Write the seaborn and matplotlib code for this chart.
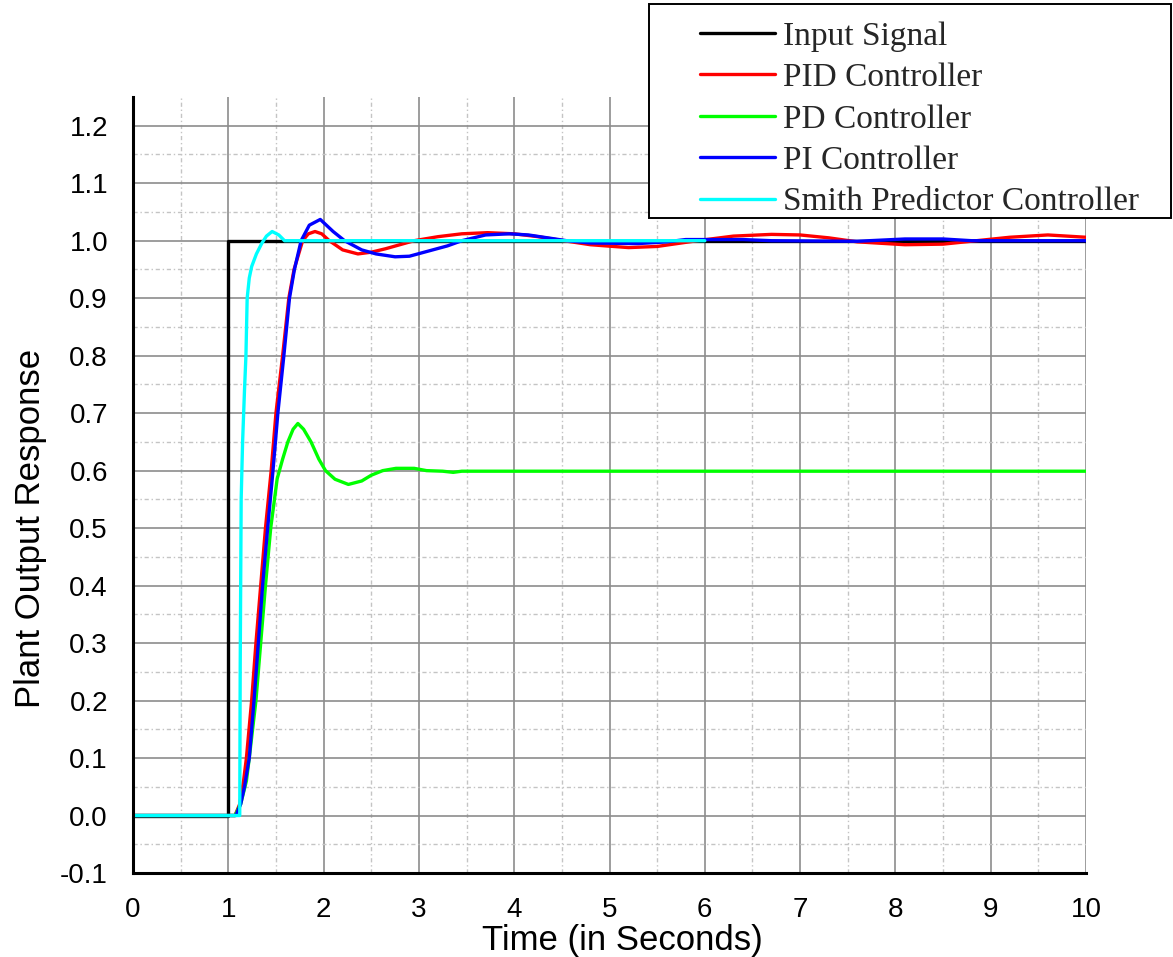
import matplotlib
matplotlib.use("Agg")
import matplotlib.pyplot as plt
import pandas as pd
import seaborn as sns
from matplotlib.ticker import MultipleLocator, FormatStrFormatter
from matplotlib.patches import Rectangle
from matplotlib.lines import Line2D

# ---- series definitions -------------------------------------------------
series_names = ["Input Signal", "PID Controller", "PD Controller",
                "PI Controller", "Smith Predictor Controller"]
series_colors = ["#000000", "#ff0000", "#00ff00", "#0000ff", "#00ffff"]

# unit step applied at t = 1 s
t_input = [0, 1, 1, 10]
y_input = [0, 0, 1, 1]

# PID controller response
t_pid = [0, 1.07, 1.12, 1.16, 1.19, 1.245, 1.29, 1.34, 1.39, 1.45, 1.50, 1.57,
         1.635, 1.69, 1.78, 1.84, 1.91, 1.98, 2.06, 2.2, 2.36, 2.5, 2.65, 2.8,
         2.95, 3.2, 3.45, 3.72, 4.0, 4.25, 4.52, 4.8, 5.2, 5.5, 5.92, 6.3, 6.7,
         7.0, 7.3, 7.6, 8.1, 8.5, 8.85, 9.2, 9.6, 10]
y_pid = [0, 0, 0.02, 0.06, 0.10, 0.20, 0.30, 0.40, 0.50, 0.60, 0.70, 0.80,
         0.90, 0.95, 1.0, 1.012, 1.016, 1.012, 1.0, 0.984, 0.977, 0.98, 0.986,
         0.993, 1.0, 1.007, 1.012, 1.014, 1.012, 1.007, 1.0, 0.993, 0.988,
         0.99, 1.0, 1.008, 1.011, 1.01, 1.005, 0.998, 0.993, 0.994, 1.0,
         1.006, 1.01, 1.006]

# PD controller response
t_pd = [0, 1.07, 1.13, 1.19, 1.22, 1.29, 1.34, 1.39, 1.445, 1.513, 1.57,
        1.625, 1.68, 1.73, 1.79, 1.868, 1.95, 2.02, 2.12, 2.26, 2.4, 2.5,
        2.62, 2.76, 2.95, 3.08, 3.25, 3.36, 3.45, 10]
y_pd = [0, 0, 0.02, 0.06, 0.10, 0.20, 0.30, 0.40, 0.50, 0.586, 0.62, 0.65,
        0.672, 0.682, 0.672, 0.65, 0.62, 0.60, 0.585, 0.576, 0.582, 0.592,
        0.600, 0.604, 0.604, 0.600, 0.599, 0.597, 0.599, 0.599]

# PI controller response
t_pi = [0, 1.08, 1.13, 1.17, 1.22, 1.27, 1.315, 1.36, 1.413, 1.469, 1.52,
        1.583, 1.642, 1.694, 1.764, 1.85, 1.965, 2.1, 2.22, 2.4, 2.55, 2.75,
        2.9, 3.1, 3.3, 3.45, 3.7, 3.95, 4.15, 4.35, 4.55, 4.8, 5.3, 5.6, 5.8,
        6.4, 6.7, 7.6, 8.1, 8.5, 8.8, 10]
y_pi = [0, 0, 0.02, 0.05, 0.10, 0.20, 0.30, 0.40, 0.50, 0.60, 0.70, 0.80,
        0.90, 0.95, 1.0, 1.027, 1.037, 1.016, 1.0, 0.984, 0.977, 0.972,
        0.973, 0.982, 0.991, 1.0, 1.01, 1.012, 1.01, 1.005, 1.0, 0.996,
        0.995, 0.998, 1.002, 1.002, 1.0, 0.999, 1.003, 1.003, 1.0, 1.0]

# Smith predictor controller response
t_smith = [0, 1.12, 1.125, 1.135, 1.15, 1.17, 1.185, 1.198, 1.22, 1.245,
           1.295, 1.35, 1.40, 1.46, 1.53, 1.59, 6.0]
y_smith = [0, 0, 0.26, 0.55, 0.65, 0.74, 0.80, 0.90, 0.935, 0.955, 0.977,
           0.995, 1.008, 1.016, 1.01, 1.0, 1.0]

x_ticks = [0, 1, 2, 3, 4, 5, 6, 7, 8, 9, 10]

times = [t_input, t_pid, t_pd, t_pi, t_smith]
values = [y_input, y_pid, y_pd, y_pi, y_smith]

frames = [pd.DataFrame({"time": t, "response": y, "series": name})
          for name, t, y in zip(series_names, times, values)]
df = pd.concat(frames, ignore_index=True)

# ---- styling --------------------------------------------------------------
sns.set_theme(style="white")
plt.rcParams["font.family"] = ["Liberation Sans", "DejaVu Sans"]
plt.rcParams["axes.unicode_minus"] = False

W, H = 1173, 957
fig = plt.figure(figsize=(W / 100, H / 100), dpi=100)
ax = fig.add_axes([133 / W, 1 - 873 / H, (1086 - 133) / W, (873 - 97) / H])

palette = dict(zip(series_names, series_colors))
sns.lineplot(data=df, x="time", y="response", hue="series",
             hue_order=series_names, palette=palette, estimator=None,
             sort=False, linewidth=2.4, legend=False, ax=ax)

ax.set_xlim(0, 10)
ax.set_ylim(-0.1, 1.25)
ax.set_xticks(x_ticks)
ax.xaxis.set_minor_locator(MultipleLocator(0.5))
ax.yaxis.set_major_locator(MultipleLocator(0.1))
ax.yaxis.set_minor_locator(MultipleLocator(0.05))
ax.xaxis.set_major_formatter(FormatStrFormatter("%d"))
ax.yaxis.set_major_formatter(FormatStrFormatter("%.1f"))

ax.set_axisbelow(True)
ax.grid(which="major", color="#8c8c8c", linewidth=1.2, linestyle="-")
ax.grid(which="minor", color="#c4c4c4", linewidth=1.0,
        linestyle=(0, (3, 2, 1, 2)))

for side in ("top", "right"):
    ax.spines[side].set_visible(False)
for side in ("left", "bottom"):
    ax.spines[side].set_linewidth(2.2)
    ax.spines[side].set_color("black")

ax.tick_params(which="major", direction="out", length=11, width=2.2,
               labelsize=20, colors="black")
ax.tick_params(which="minor", direction="out", length=4.5, width=1.8,
               colors="black")
ax.tick_params(axis="y", which="major", pad=7)
ax.tick_params(axis="x", which="major", pad=6.5)

ax.set_xlabel("Time (in Seconds)", fontsize=25, color="black")
ax.xaxis.set_label_coords(0.514, -0.066)
ax.set_ylabel("Plant Output Response", fontsize=25, color="black")
ax.yaxis.set_label_coords(-0.090, 0.4446)

# no minor gridline along the open top edge of the plot area
fig.canvas.draw()
for loc, tick in zip(ax.yaxis.get_minorticklocs(), ax.yaxis.get_minor_ticks()):
    if loc > 1.2:
        tick.gridline.set_visible(False)

# ---- legend box --------------------------------------------------------------
frame = Rectangle((649 / W, 1 - 218 / H), (1171 - 649) / W, (218 - 4) / H,
                  transform=fig.transFigure, facecolor="white",
                  edgecolor="black", linewidth=1.4, zorder=4)
fig.add_artist(frame)

handles = [Line2D([], [], color=c, linewidth=2.4) for c in series_colors]
fig.legend(handles, series_names, loc="upper left",
           bbox_to_anchor=(700 / W, 1 - 21 / H), bbox_transform=fig.transFigure,
           frameon=False, prop={"family": "Liberation Serif", "size": 24},
           handlelength=2.25, handletextpad=0.24, labelspacing=0.33,
           borderpad=0, borderaxespad=0)

fig.savefig("out.png", dpi=100)
